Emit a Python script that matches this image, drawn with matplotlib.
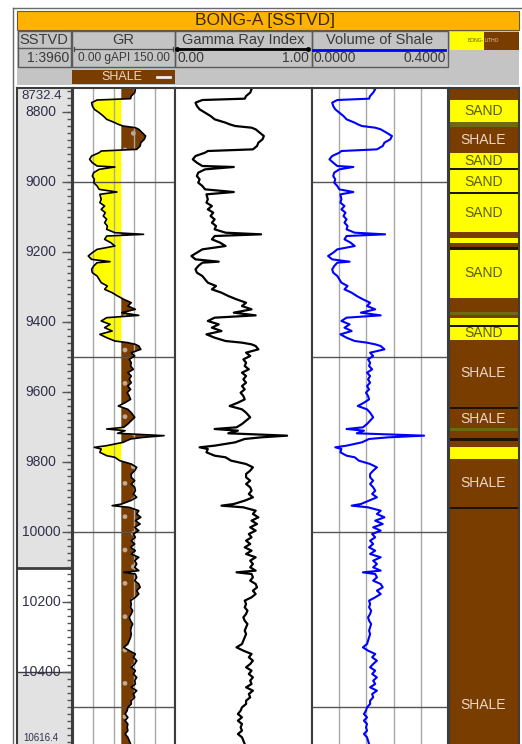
import numpy as np
import matplotlib
matplotlib.use("Agg")
import matplotlib.pyplot as plt
from matplotlib.patches import Rectangle

plt.rcParams["font.family"] = ["Liberation Sans", "DejaVu Sans"]

# ---- log data ----
depth_top = 8732.4
depth_bot = 10616.4

depth = [
    8732.4, 8736.2, 8745.7, 8755.3, 8762.9, 8766.7, 8774.3, 8783.8, 8793.4, 8802.9,
    8812.4, 8821.9, 8831.5, 8836.2, 8841.0, 8845.8, 8850.5, 8860.0, 8869.6, 8879.1,
    8888.6, 8898.1, 8907.7, 8912.4, 8917.2, 8926.7, 8936.2, 8945.8, 8955.3, 8958.1,
    8964.8, 8974.3, 8983.9, 8993.4, 9002.9, 9012.4, 9022.0, 9029.6, 9036.2, 9050.5,
    9060.0, 9069.6, 9079.1, 9088.6, 9098.1, 9107.7, 9117.2, 9126.7, 9136.2, 9145.8,
    9150.5, 9155.3, 9164.8, 9174.3, 9183.9, 9193.4, 9202.9, 9212.4, 9222.0, 9228.6,
    9231.5, 9241.0, 9250.5, 9260.0, 9269.6, 9279.1, 9288.6, 9298.1, 9307.7, 9317.2,
    9326.7, 9336.2, 9345.8, 9355.3, 9364.8, 9374.3, 9382.0, 9388.6, 9398.1, 9407.7,
    9417.2, 9426.7, 9436.2, 9445.8, 9455.3, 9460.0, 9464.8, 9469.6, 9479.1, 9488.6,
    9498.1, 9507.7, 9517.2, 9526.7, 9536.2, 9545.8, 9555.3, 9564.8, 9574.3, 9583.9,
    9593.4, 9602.9, 9612.4, 9622.0, 9631.5, 9641.0, 9650.5, 9660.0, 9673.3, 9682.8,
    9692.4, 9701.9, 9706.7, 9711.4, 9719.0, 9725.7, 9730.5, 9735.2, 9744.8, 9754.3,
    9759.0, 9763.8, 9773.3, 9782.9, 9787.6, 9797.1, 9806.7, 9816.2, 9825.7, 9835.2,
    9844.8, 9854.3, 9863.8, 9873.3, 9882.9, 9892.4, 9901.9, 9911.4, 9921.0, 9925.7,
    9930.5, 9940.0, 9949.5, 9959.0, 9968.6, 9978.1, 9987.6, 9997.1, 10006.7, 10016.2,
    10025.7, 10035.2, 10044.8, 10054.3, 10063.8, 10073.3, 10082.9, 10092.4, 10101.9, 10111.4,
    10116.2, 10121.0, 10130.5, 10140.0, 10149.5, 10159.0, 10168.6, 10178.1, 10187.6, 10197.1,
    10206.7, 10216.2, 10225.7, 10235.2, 10244.8, 10254.3, 10263.8, 10273.3, 10282.9, 10292.4,
    10301.9, 10311.4, 10321.0, 10330.5, 10340.0, 10349.5, 10359.0, 10368.6, 10378.1, 10387.6,
    10397.1, 10406.7, 10416.2, 10425.7, 10435.2, 10444.8, 10454.3, 10463.8, 10473.3, 10482.9,
    10492.4, 10501.9, 10511.4, 10521.0, 10530.5, 10540.0, 10549.5, 10559.0, 10568.6, 10578.1,
    10587.6, 10597.1, 10606.7, 10616.4,
]

gr_api = [
    91, 92, 91, 86, 85, 36, 28, 29, 32, 39,
    45, 50, 62, 67, 74, 92, 97, 102, 107, 105,
    100, 99, 94, 42, 39, 28, 25, 29, 36, 62,
    39, 31, 29, 32, 31, 36, 39, 65, 40, 42,
    40, 47, 42, 48, 45, 50, 47, 51, 50, 62,
    104, 50, 47, 56, 62, 36, 29, 23, 28, 55,
    36, 31, 28, 29, 36, 39, 42, 51, 47, 58,
    66, 75, 86, 81, 92, 72, 97, 50, 42, 55,
    47, 58, 40, 50, 62, 81, 92, 97, 100, 86,
    91, 83, 86, 85, 89, 81, 86, 83, 86, 81,
    85, 80, 83, 85, 77, 67, 81, 86, 91, 86,
    81, 75, 50, 77, 66, 134, 104, 85, 74, 50,
    32, 42, 40, 50, 62, 69, 86, 94, 91, 86,
    86, 91, 86, 91, 92, 89, 94, 85, 72, 58,
    83, 97, 94, 100, 92, 99, 91, 97, 89, 92,
    86, 91, 85, 92, 86, 97, 91, 94, 91, 97,
    75, 92, 94, 91, 97, 99, 94, 97, 92, 85,
    86, 85, 88, 86, 83, 85, 88, 86, 85, 86,
    85, 83, 81, 75, 83, 92, 89, 94, 91, 86,
    92, 89, 94, 91, 92, 86, 94, 89, 91, 86,
    86, 81, 80, 77, 81, 77, 81, 80, 81, 77,
    81, 83, 85, 85,
]

gr_index = [
    0.55, 0.56, 0.55, 0.52, 0.51, 0.20, 0.15, 0.16, 0.18, 0.22,
    0.26, 0.29, 0.37, 0.40, 0.44, 0.56, 0.59, 0.62, 0.65, 0.64,
    0.61, 0.60, 0.57, 0.24, 0.22, 0.15, 0.13, 0.16, 0.20, 0.43,
    0.22, 0.17, 0.16, 0.18, 0.17, 0.20, 0.22, 0.43, 0.23, 0.24,
    0.23, 0.27, 0.24, 0.28, 0.26, 0.29, 0.27, 0.30, 0.29, 0.37,
    0.63, 0.29, 0.27, 0.33, 0.37, 0.20, 0.16, 0.12, 0.15, 0.32,
    0.20, 0.17, 0.15, 0.16, 0.20, 0.22, 0.24, 0.30, 0.27, 0.34,
    0.39, 0.45, 0.52, 0.49, 0.56, 0.43, 0.59, 0.29, 0.24, 0.32,
    0.27, 0.34, 0.23, 0.29, 0.37, 0.49, 0.56, 0.59, 0.61, 0.52,
    0.55, 0.50, 0.52, 0.51, 0.54, 0.49, 0.52, 0.50, 0.52, 0.49,
    0.51, 0.48, 0.50, 0.51, 0.46, 0.40, 0.49, 0.52, 0.55, 0.52,
    0.49, 0.45, 0.29, 0.46, 0.39, 0.82, 0.63, 0.51, 0.44, 0.29,
    0.18, 0.24, 0.23, 0.29, 0.37, 0.41, 0.52, 0.57, 0.55, 0.52,
    0.52, 0.55, 0.52, 0.55, 0.56, 0.54, 0.57, 0.51, 0.43, 0.34,
    0.50, 0.59, 0.57, 0.61, 0.56, 0.60, 0.55, 0.59, 0.54, 0.56,
    0.52, 0.55, 0.51, 0.56, 0.52, 0.59, 0.55, 0.57, 0.55, 0.59,
    0.45, 0.56, 0.57, 0.55, 0.59, 0.60, 0.57, 0.59, 0.56, 0.51,
    0.52, 0.51, 0.53, 0.52, 0.50, 0.51, 0.53, 0.52, 0.51, 0.52,
    0.51, 0.50, 0.49, 0.45, 0.50, 0.56, 0.54, 0.57, 0.55, 0.52,
    0.56, 0.54, 0.57, 0.55, 0.56, 0.52, 0.57, 0.54, 0.55, 0.52,
    0.52, 0.49, 0.48, 0.46, 0.49, 0.46, 0.49, 0.48, 0.49, 0.46,
    0.49, 0.50, 0.51, 0.51,
]

vshale = [
    0.180, 0.186, 0.180, 0.171, 0.168, 0.075, 0.060, 0.063, 0.069, 0.081,
    0.093, 0.102, 0.126, 0.135, 0.147, 0.186, 0.202, 0.219, 0.235, 0.230,
    0.213, 0.208, 0.191, 0.087, 0.081, 0.060, 0.052, 0.063, 0.075, 0.122,
    0.081, 0.066, 0.063, 0.069, 0.066, 0.075, 0.081, 0.122, 0.084, 0.087,
    0.084, 0.096, 0.087, 0.099, 0.093, 0.102, 0.096, 0.105, 0.102, 0.126,
    0.215, 0.102, 0.096, 0.114, 0.126, 0.075, 0.063, 0.048, 0.060, 0.111,
    0.075, 0.066, 0.060, 0.063, 0.075, 0.081, 0.087, 0.105, 0.096, 0.117,
    0.132, 0.150, 0.171, 0.162, 0.186, 0.144, 0.202, 0.102, 0.087, 0.111,
    0.096, 0.117, 0.084, 0.102, 0.126, 0.162, 0.186, 0.202, 0.213, 0.171,
    0.180, 0.165, 0.171, 0.168, 0.177, 0.162, 0.171, 0.165, 0.171, 0.162,
    0.168, 0.159, 0.165, 0.168, 0.153, 0.135, 0.162, 0.171, 0.180, 0.171,
    0.162, 0.150, 0.102, 0.153, 0.132, 0.329, 0.224, 0.168, 0.147, 0.102,
    0.069, 0.087, 0.084, 0.102, 0.126, 0.138, 0.171, 0.191, 0.180, 0.171,
    0.171, 0.180, 0.171, 0.180, 0.186, 0.177, 0.191, 0.168, 0.144, 0.117,
    0.165, 0.202, 0.191, 0.213, 0.186, 0.208, 0.180, 0.202, 0.177, 0.186,
    0.171, 0.180, 0.168, 0.186, 0.171, 0.202, 0.180, 0.191, 0.180, 0.202,
    0.150, 0.186, 0.191, 0.180, 0.202, 0.208, 0.191, 0.202, 0.186, 0.168,
    0.171, 0.168, 0.174, 0.171, 0.165, 0.168, 0.174, 0.171, 0.168, 0.171,
    0.168, 0.165, 0.162, 0.150, 0.165, 0.186, 0.177, 0.191, 0.180, 0.171,
    0.186, 0.177, 0.191, 0.180, 0.186, 0.171, 0.191, 0.177, 0.180, 0.171,
    0.171, 0.162, 0.159, 0.153, 0.162, 0.153, 0.162, 0.159, 0.162, 0.153,
    0.162, 0.165, 0.168, 0.168,
]

gr_cutoff = 71.4

# lithology column
litho_top = [8732.4, 8766.6, 8829.4, 8843.7, 8918.0, 8961.0, 8968.0, 9029.0, 9035.0, 9144.0,
             9161.0, 9175.0, 9186.0, 9195.0, 9332.0, 9372.0, 9381.0, 9390.0, 9410.0, 9415.0,
             9452.0, 9645.0, 9650.0, 9704.0, 9712.0, 9732.0, 9741.0, 9758.0, 9792.0, 9929.0,
             9935.0]
litho_type = ["shale", "sand", "silt", "shale", "sand", "coal", "sand", "coal", "sand", "shale",
              "sand", "shale", "coal", "sand", "shale", "silt", "shale", "sand", "coal", "sand",
              "shale", "coal", "shale", "silt", "shale", "coal", "shale", "sand", "shale", "coal",
              "shale"]
litho_label = ["SAND", "SHALE", "SAND", "SAND", "SAND", "SAND", "SAND",
               "SHALE", "SHALE", "SHALE", "SHALE"]
litho_label_depth = [8797, 8880, 8940, 9000, 9090, 9262, 9433, 9548, 9677, 9860, 10495]

depth_labels = [8800, 9000, 9200, 9400, 9600, 9800, 10000, 10200, 10400]
grid_depths = [9000, 9500, 10000, 10500]

# ---- styling ----
BROWN = "#7a3d00"
YELLOW = "#ffff00"
litho_color = {"shale": BROWN, "sand": YELLOW, "silt": "#6e6a10", "coal": "#1c1400"}
FRAME = "#3c3c3c"
HDR_GRAY = "#c4c4c4"

W, H = 522, 744
fig = plt.figure(figsize=(W / 100, H / 100), dpi=100)

bg = fig.add_axes([0, 0, 1, 1])
bg.set_xlim(0, W)
bg.set_ylim(H, 0)
bg.axis("off")

TOP_PX, BOT_PX = 88.0, 747.4


def track(x0, x1):
    ax = fig.add_axes([x0 / W, 1 - BOT_PX / H, (x1 - x0) / W, (BOT_PX - TOP_PX) / H])
    ax.set_ylim(depth_bot, depth_top)
    ax.set_xticks([])
    ax.set_yticks([])
    for s in ax.spines.values():
        s.set_color(FRAME)
        s.set_linewidth(1.5)
    return ax


# ---- header ----
bg.plot([13, 13], [7.5, 760], color="#6a6a6a", lw=1)
bg.plot([13, 520.5], [7.5, 7.5], color="#6a6a6a", lw=1)
bg.add_patch(Rectangle((17, 10.5), 502, 19.5, fc="#ffb300", ec="#6a5a30", lw=0.8))
bg.text(265, 20.5, "BONG-A [SSTVD]", ha="center", va="center", fontsize=12.5, color="#3a2800")
bg.add_patch(Rectangle((17, 30.5), 502, 54, fc=HDR_GRAY, ec="none"))

cells = [(17.5, 71), (72, 175), (175, 311.7), (311.7, 448.3)]
for x0, x1 in cells:
    bg.add_patch(Rectangle((x0, 31), x1 - x0, 35.5, fc="none", ec="#5a5a5a", lw=1))
bg.plot([17.5, 71], [47.5, 47.5], color="#5a5a5a", lw=1)

name_kw = dict(ha="center", va="center", fontsize=10.5, color="#3a3a3a")
bg.text(44, 40, "SSTVD", **name_kw)
bg.text(123.5, 40, "GR", **name_kw)
bg.text(243, 40, "Gamma Ray Index", **name_kw)
bg.text(380, 40, "Volume of Shale", **name_kw)

# curve style samples
bg.plot([74, 173], [48.5, 48.5], color="#4a4a4a", lw=0.9)
bg.plot([74, 74], [46.5, 50.5], color="#4a4a4a", lw=0.9)
bg.plot([173, 173], [46.5, 50.5], color="#4a4a4a", lw=0.9)
bg.plot([177, 308], [49, 49], color="black", lw=2)
bg.plot([177, 308], [49, 49], "o", color="black", ms=2.5)
bg.plot([313, 445], [49.5, 49.5], color="#0000ff", lw=2)

sc_kw = dict(va="center", fontsize=10, color="#3a3a3a")
bg.text(69, 58.5, "1:3960", ha="right", **sc_kw)
bg.text(123.5, 58.5, "0.00 gAPI 150.00", ha="center", va="center", fontsize=8.6, color="#3a3a3a")
bg.text(177.5, 58.5, "0.00", ha="left", **sc_kw)
bg.text(309, 58.5, "1.00", ha="right", **sc_kw)
bg.text(314, 58.5, "0.0000", ha="left", **sc_kw)
bg.text(445.5, 58.5, "0.4000", ha="right", **sc_kw)

# lithology legend box
bg.add_patch(Rectangle((450, 31.5), 34, 18, fc=YELLOW, ec="none"))
bg.add_patch(Rectangle((484, 31.5), 34.5, 18, fc=BROWN, ec="none"))
bg.text(484, 40.5, "BONG-", ha="right", va="center", fontsize=3.6, color="#5a5a00")
bg.text(484.5, 40.5, "LITHO", ha="left", va="center", fontsize=3.6, color="#e8c8b0")

# shale fill legend under GR
bg.add_patch(Rectangle((72, 69.5), 103, 14, fc=BROWN, ec="none"))
bg.text(122, 77, "SHALE", ha="center", va="center", fontsize=9, color="#ecd6c8")
bg.plot([157, 170], [76.5, 76.5], color="#eeeeee", lw=2)

# ---- depth track ----
axd = track(17, 72)
axd.set_facecolor("#e2e2e2")
axd.set_xlim(0, 1)
axd.axhspan(10104, 10400, color="white", lw=0)
axd.axhline(10104, color=FRAME, lw=2)
axd.axhline(10400, color=FRAME, lw=1)
minor = np.arange(8740, depth_bot, 20)
axd.hlines(minor, 0.91, 1.0, color="#555555", lw=1)
axd.hlines(depth_labels, 0.82, 1.0, color="#555555", lw=1)
for dl in depth_labels:
    axd.text(0.44, dl, f"{dl}", ha="center", va="center", fontsize=10, color="#30304a")
axd.text(0.44, 8754, f"{depth_top}", ha="center", va="center", fontsize=9.5, color="#30304a")
axd.text(0.44, 10589, f"{depth_bot}", ha="center", va="center", fontsize=7, color="#30304a")

# ---- GR track ----
axg = track(72.5, 175)
axg.set_xlim(0, 150)
d = np.array(depth)
gr = np.array(gr_api)
for v in [30, 60, 90, 120]:
    axg.axvline(v, color="#a8a8a8", lw=1)
for gd in grid_depths:
    axg.axhline(gd, color="#555555", lw=1)
axg.fill_betweenx(d, gr, gr_cutoff, where=gr < gr_cutoff, interpolate=True, color=YELLOW, lw=0)
axg.fill_betweenx(d, gr_cutoff, gr, where=gr >= gr_cutoff, interpolate=True,
                  facecolor=BROWN, edgecolor="#c0a898", hatch=".", lw=0)
axg.plot(gr, d, color="black", lw=1.2)

# ---- Gamma Ray Index track ----
axi = track(175, 311.7)
axi.set_xlim(0, 1)
axi.plot(gr_index, depth, color="black", lw=1.6)

# ---- Volume of shale track ----
axv = track(311.7, 448.3)
axv.set_xlim(0, 0.4)
for v in [0.08, 0.16, 0.24, 0.32]:
    axv.axvline(v, color="#a8a8a8", lw=1)
for gd in grid_depths:
    axv.axhline(gd, color="#555555", lw=1)
axv.plot(vshale, depth, color="#0000ff", lw=1.5)

# ---- lithology track ----
axl = track(448.5, 518.5)
axl.set_xlim(0, 1)
litho_base = litho_top[1:] + [depth_bot]
for top, base, kind in zip(litho_top, litho_base, litho_type):
    axl.fill_betweenx([top, base], 0, 1, color=litho_color[kind], lw=0)
for lab, ld in zip(litho_label, litho_label_depth):
    col = "#5c5c00" if lab == "SAND" else "#ecd6cc"
    axl.text(0.5, ld, lab, ha="center", va="center", fontsize=10, color=col)

fig.savefig("out.png", dpi=100)
